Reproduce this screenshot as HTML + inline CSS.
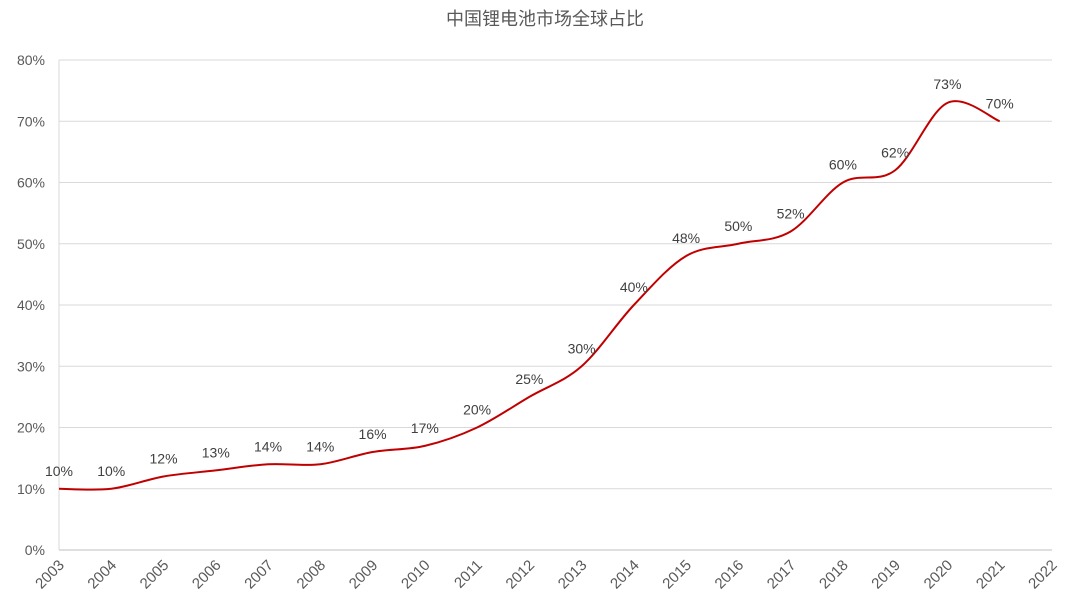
<!DOCTYPE html>
<html><head><meta charset="utf-8"><style>body{margin:0;background:#fff}svg{display:block}</style></head><body>
<svg id="s" width="1080" height="600" xmlns="http://www.w3.org/2000/svg" font-family="Liberation Sans, Noto Sans CJK SC, sans-serif">
<rect width="1080" height="600" fill="#fff"/>
<text x="545" y="25" text-anchor="middle" font-size="18" fill="#595959" font-family="Liberation Sans, Noto Sans CJK SC, sans-serif">中国锂电池市场全球占比</text>
<g id="g"></g>
</svg>
<script>
const g=document.getElementById('g');let h='';
const x0=59,dx=52.26,y0=550,k=6.125;
const Y=v=>y0-v*k,X=i=>x0+i*dx;
for(let v=0;v<=80;v+=10){const y=Y(v);
 if(v>0)h+=`<line x1="${x0}" x2="1052" y1="${y}" y2="${y}" stroke="#d9d9d9"/>`;
 h+=`<text x="45" y="${y+5}" text-anchor="end" font-size="14" fill="#595959">${v}%</text>`;}
h+=`<line x1="${x0}" x2="1052" y1="550" y2="550" stroke="#bfbfbf"/><line x1="${x0}" x2="${x0}" y1="60" y2="550" stroke="#d9d9d9"/>`;
for(let i=0;i<20;i++){const x=X(i);h+=`<text transform="translate(${x+6},566) rotate(-45)" text-anchor="end" font-size="15" fill="#595959">${2003+i}</text>`;}
const v=[10,10,12,13,14,14,16,17,20,25,30,40,48,50,52,60,62,73,70];
const p=v.map((a,i)=>[X(i),Y(a)]);
let d=`M${p[0][0]},${p[0][1]}`;
for(let i=0;i<p.length-1;i++){const a=p[i-1]||p[i],b=p[i],c=p[i+1],e=p[i+2]||c;
 d+=` C${b[0]+(c[0]-a[0])/6},${b[1]+(c[1]-a[1])/6} ${c[0]-(e[0]-b[0])/6},${c[1]-(e[1]-b[1])/6} ${c[0]},${c[1]}`;}
h+=`<path d="${d}" fill="none" stroke="#c00000" stroke-width="2"/>`;
p.forEach((q,i)=>{let yy=q[1]-13;if(i==17)yy=q[1]-14;h+=`<text x="${q[0]}" y="${yy}" text-anchor="middle" font-size="14" fill="#404040">${v[i]}%</text>`;});
g.innerHTML=h;
</script>
</body></html>
